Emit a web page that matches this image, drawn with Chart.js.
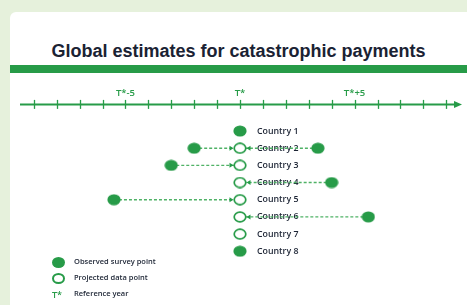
<!DOCTYPE html>
<html>
<head>
<meta charset="utf-8">
<script src="https://cdn.jsdelivr.net/npm/chart.js@4.4.1/dist/chart.umd.min.js"></script>
<style>
  html, body { margin: 0; padding: 0; }
  body { width: 467px; height: 305px; background: #e6f1dc; position: relative; overflow: hidden; font-family: "Open Sans", sans-serif; }
  .card { position: absolute; left: 10px; top: 12px; width: 470px; height: 310px; background: #fff; border-radius: 6px; }
  .title { position: absolute; left: 10px; right: 0; top: 41px; margin: 0; text-align: center; font: bold 18px "Liberation Sans", Arial, sans-serif; color: #1a2233; }
  .bar { position: absolute; left: 10px; right: 0; top: 65px; height: 8px; background: #279b48; }
  #payChart { position: absolute; left: 0; top: 0; }
  .legend { position: absolute; left: 51px; top: 256px; width: 200px; font: 600 7.5px "Open Sans", sans-serif; color: #1c2434; white-space: nowrap; }
  .legend .row { position: relative; height: 16px; }
  .legend .sym { position: absolute; left: 1px; top: 1px; width: 13px; height: 11px; border-radius: 50%; box-sizing: border-box; }
  .legend .txt { position: absolute; left: 23px; top: 0; line-height: 11px; }
  .filled { background: #279b48; }
  .hollow { border: 2px solid #279b48; background: #fff; }
  .tstar { color: #279b48; font-size: 9px; font-weight: 600; width: auto !important; height: auto !important; border-radius: 0 !important; line-height: 11px; }
</style>
</head>
<body>
<div class="card"></div>
<h1 class="title">Global estimates for catastrophic payments</h1>
<div class="bar"></div>
<canvas id="payChart" width="467" height="305"></canvas>
<div class="legend">
  <div class="row"><span class="sym filled"></span><span class="txt">Observed survey point</span></div>
  <div class="row"><span class="sym hollow"></span><span class="txt">Projected data point</span></div>
  <div class="row"><span class="sym tstar">T*</span><span class="txt">Reference year</span></div>
</div>
<script>
  // years relative to the reference year T*
  const countries = ["Country 1", "Country 2", "Country 3", "Country 4", "Country 5", "Country 6", "Country 7", "Country 8"];
  const observedEarly = [0, -2, -3, null, -5.5, null, null, 0];
  const observedLate = [null, 3.4, null, 4, null, 5.6, null, null];
  const projected = [null, 0, 0, 0, 0, 0, 0, null];
  const yearTicks = [-9, -8, -7, -6, -5, -4, -3, -2, -1, 0, 1, 2, 3, 4, 5, 6, 7, 8, 9];
  const tickValues = [-5, 0, 5];
  const tickLabels = ["T*-5", "T*", "T*+5"];

  const green = "#279b48";
  const dashGreen = "#4fb266";

  function ellipseStyle(filled) {
    const c = document.createElement("canvas");
    c.width = 14;
    c.height = 12;
    const g = c.getContext("2d");
    g.beginPath();
    if (filled) {
      g.ellipse(7, 6, 6.6, 5.6, 0, 0, Math.PI * 2);
      g.fillStyle = green;
      g.fill();
    } else {
      g.ellipse(7, 6, 5.8, 4.9, 0, 0, Math.PI * 2);
      g.fillStyle = "#fff";
      g.fill();
      g.lineWidth = 1.7;
      g.strokeStyle = green;
      g.stroke();
    }
    return c;
  }

  const observedPoints = [];
  const projectedPoints = [];
  const links = [];
  countries.forEach((name, i) => {
    const row = i + 1;
    [observedEarly[i], observedLate[i]].forEach(v => {
      if (v === null) return;
      observedPoints.push({ x: v, y: row });
      if (projected[i] !== null) links.push({ from: v, to: projected[i], row: row });
    });
    if (projected[i] !== null) projectedPoints.push({ x: projected[i], y: row });
  });

  const datasets = [
    { label: "Projected data point", data: projectedPoints, pointStyle: ellipseStyle(false), pointRadius: 6, showLine: false },
    { label: "Observed survey point", data: observedPoints, pointStyle: ellipseStyle(true), pointRadius: 6, showLine: false }
  ];
  links.forEach(l => {
    datasets.push({
      data: [{ x: l.from, y: l.row }, { x: l.to, y: l.row }],
      showLine: true,
      pointRadius: 0,
      borderColor: dashGreen,
      borderWidth: 1.4,
      borderDash: [3, 2]
    });
  });

  const axisPlugin = {
    id: "axisPlugin",
    beforeDatasetsDraw(chart) {
      const ctx = chart.ctx;
      const x = chart.scales.x;
      const y = chart.scales.y;
      const top = chart.chartArea.top;
      ctx.save();
      ctx.strokeStyle = green;
      ctx.fillStyle = green;
      ctx.lineWidth = 2;
      ctx.beginPath();
      ctx.moveTo(chart.chartArea.left, top);
      ctx.lineTo(chart.chartArea.right - 4, top);
      ctx.stroke();
      ctx.beginPath();
      ctx.moveTo(chart.chartArea.right + 2, top);
      ctx.lineTo(chart.chartArea.right - 6, top - 3.5);
      ctx.lineTo(chart.chartArea.right - 6, top + 3.5);
      ctx.closePath();
      ctx.fill();
      ctx.lineWidth = 1.3;
      x.ticks.forEach(t => {
        const px = Math.round(x.getPixelForValue(t.value)) + 0.5;
        ctx.beginPath();
        ctx.moveTo(px, top - 4.5);
        ctx.lineTo(px, top + 4.5);
        ctx.stroke();
      });
      // country labels sit beside the T* column
      ctx.fillStyle = "#1c2434";
      ctx.font = "600 8.8px 'Open Sans'";
      ctx.textBaseline = "middle";
      countries.forEach((name, i) => {
        ctx.fillText(name, x.getPixelForValue(0) + 17, y.getPixelForValue(i + 1));
      });
      ctx.restore();
    },
    afterDatasetsDraw(chart) {
      const ctx = chart.ctx;
      const x = chart.scales.x;
      const y = chart.scales.y;
      ctx.save();
      ctx.fillStyle = green;
      links.forEach(l => {
        const dir = l.from < l.to ? 1 : -1;
        const tip = x.getPixelForValue(l.to) - dir * 6.5;
        const py = y.getPixelForValue(l.row);
        ctx.beginPath();
        ctx.moveTo(tip, py);
        ctx.lineTo(tip - dir * 4, py - 2.5);
        ctx.lineTo(tip - dir * 4, py + 2.5);
        ctx.closePath();
        ctx.fill();
      });
      ctx.restore();
    }
  };

  new Chart(document.getElementById("payChart").getContext("2d"), {
    type: "scatter",
    data: { datasets: datasets },
    options: {
      responsive: false,
      animation: false,
      layout: { padding: { left: 20, right: 7, top: 83, bottom: 28 } },
      plugins: { legend: { display: false }, tooltip: { enabled: false } },
      scales: {
        x: {
          type: "linear",
          position: "top",
          min: -9.6,
          max: 9.6,
          grid: { display: false, drawTicks: false },
          border: { display: false },
          afterBuildTicks: scale => { scale.ticks = yearTicks.map(v => ({ value: v })); },
          ticks: {
            autoSkip: false,
            maxRotation: 0,
            padding: 5,
            color: green,
            font: { family: "Open Sans", size: 9.5, weight: "600" },
            callback: v => {
              const k = tickValues.indexOf(v);
              return k >= 0 ? tickLabels[k] : "";
            }
          }
        },
        y: { type: "linear", reverse: true, min: -0.55, max: 9.5, display: false }
      }
    },
    plugins: [axisPlugin]
  });
</script>
</body>
</html>
